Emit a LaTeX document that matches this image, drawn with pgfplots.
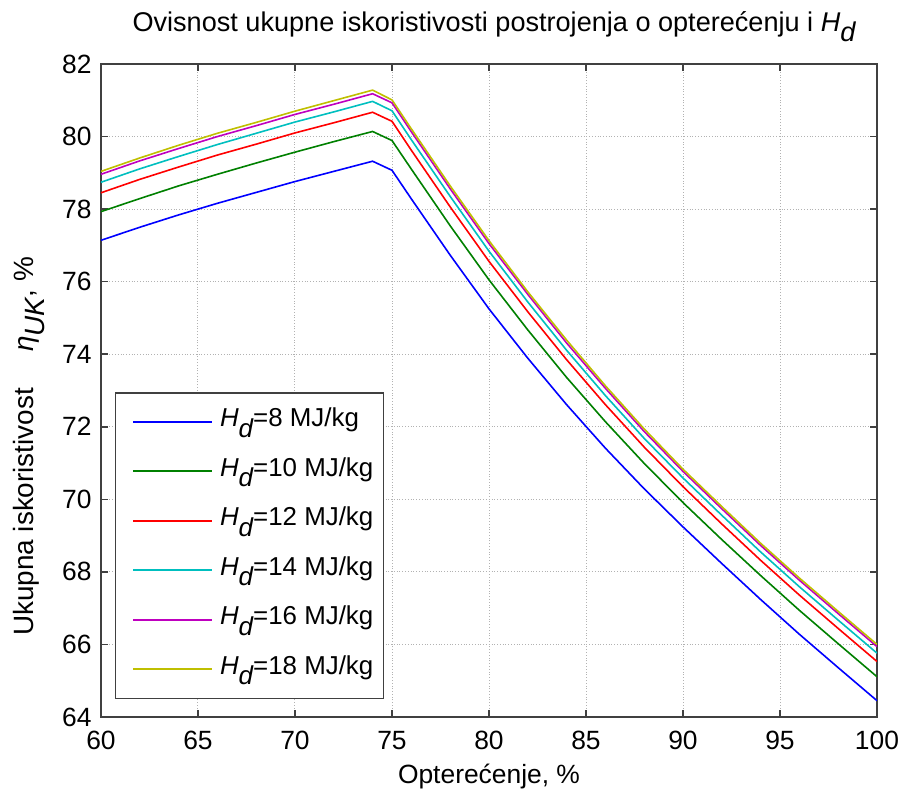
\documentclass[border=0pt]{standalone}
\usepackage{fontspec}
\setmainfont{Liberation Sans}
\usepackage{pgfplots}
\pgfplotsset{compat=1.18}
\usepackage{pgfplotstable}

\definecolor{mb}{rgb}{0,0,1}
\definecolor{mg}{rgb}{0,0.5,0}
\definecolor{mr}{rgb}{1,0,0}
\definecolor{mc}{rgb}{0,0.75,0.75}
\definecolor{mm}{rgb}{0.75,0,0.75}
\definecolor{my}{rgb}{0.75,0.75,0}

\newcommand{\fs}{\fontsize{13.25}{15}\selectfont}
\newcommand{\sub}[1]{\raisebox{-0.4em}{\itshape #1}}
\newcommand{\Hd}{\textit{H}\sub{d}}

\pgfplotstableread{
x b g r c m y
60 77.14 77.93 78.45 78.74 78.96 79.04
62 77.50 78.29 78.82 79.11 79.33 79.41
64 77.84 78.64 79.16 79.45 79.67 79.76
66 78.16 78.96 79.49 79.78 80.00 80.09
68 78.46 79.27 79.79 80.09 80.30 80.39
70 78.76 79.57 80.10 80.40 80.61 80.70
72 79.04 79.86 80.38 80.68 80.89 80.99
74 79.32 80.14 80.67 80.97 81.18 81.28
75 79.07 79.89 80.42 80.71 80.93 81.01
76 78.28 79.10 79.62 79.91 80.13 80.21
78 76.73 77.54 78.06 78.35 78.56 78.64
80 75.25 76.05 76.56 76.84 77.05 77.13
82 73.89 74.67 75.17 75.44 75.65 75.72
84 72.61 73.36 73.85 74.11 74.31 74.39
86 71.41 72.14 72.61 72.86 73.06 73.13
88 70.29 70.99 71.44 71.68 71.87 71.94
90 69.24 69.91 70.35 70.59 70.77 70.83
92 68.23 68.89 69.32 69.56 69.74 69.80
94 67.24 67.90 68.32 68.55 68.73 68.79
96 66.28 66.94 67.36 67.59 67.77 67.83
98 65.36 66.02 66.44 66.67 66.85 66.91
100 64.45 65.11 65.53 65.76 65.94 66.00
}\datatable

\begin{document}
\begin{tikzpicture}
\begin{axis}[
  width=388bp, height=326.5bp, scale only axis,
  xmin=60, xmax=100, ymin=64, ymax=82,
  xtick={60,65,...,100}, ytick={64,66,...,82},
  grid=major,
  major grid style={densely dotted, black!30, line width=0.5bp},
  tick align=inside, major tick length=3.5bp,
  axis line style={black!75, line width=0.75bp},
  every tick/.style={black!75, line width=0.75bp},
  /pgf/number format/assume math mode=true,
  tick label style={font=\fs},
  xticklabel style={anchor=base, yshift=-16bp},
  yticklabel style={xshift=-1.2bp},
  title={Ovisnost ukupne iskoristivosti postrojenja o opterećenju i \Hd},
  title style={font=\fontsize{13.6}{15}\selectfont, at={(axis description cs:0.5065,1.0322)}, anchor=base},
  xlabel={Opterećenje, \%},
  xlabel style={font=\fs, at={(axis description cs:0.5,-0.1011)}, anchor=base},
  ylabel={Ukupna iskoristivost\hspace{1.3em}\textit{η}\sub{UK}, \%},
  ylabel style={font=\fontsize{14}{16}\selectfont, at={(axis description cs:-0.0876,0.1133)}, anchor=base west},
  legend cell align=left,
  legend style={at={(0.018,0.4977)}, anchor=north west, draw=black!75,
    line width=0.75bp, font=\fontsize{13}{15}\selectfont,
    nodes={inner ysep=0pt, text height=12bp, text depth=7bp},
    row sep=5.75bp, inner xsep=3bp, inner ysep=5bp},
  legend image code/.code={\draw[#1, shorten <=5.35bp, shorten >=1.5bp] (0bp,0bp) -- (46.35bp,0bp);},
]
\addplot[mb, line width=0.8bp] table[x=x, y=b] {\datatable};
\addlegendentry{\Hd=8 MJ/kg}
\addplot[mg, line width=0.8bp] table[x=x, y=g] {\datatable};
\addlegendentry{\Hd=10 MJ/kg}
\addplot[mr, line width=0.8bp] table[x=x, y=r] {\datatable};
\addlegendentry{\Hd=12 MJ/kg}
\addplot[mc, line width=0.8bp] table[x=x, y=c] {\datatable};
\addlegendentry{\Hd=14 MJ/kg}
\addplot[mm, line width=0.8bp] table[x=x, y=m] {\datatable};
\addlegendentry{\Hd=16 MJ/kg}
\addplot[my, line width=0.8bp] table[x=x, y=y] {\datatable};
\addlegendentry{\Hd=18 MJ/kg}
\end{axis}
\pgfresetboundingbox
\path[use as bounding box] ([shift={(-50.5bp,-36.5bp)}]current axis.south west) rectangle ([shift={(12bp,32bp)}]current axis.north east);
\end{tikzpicture}
\end{document}
